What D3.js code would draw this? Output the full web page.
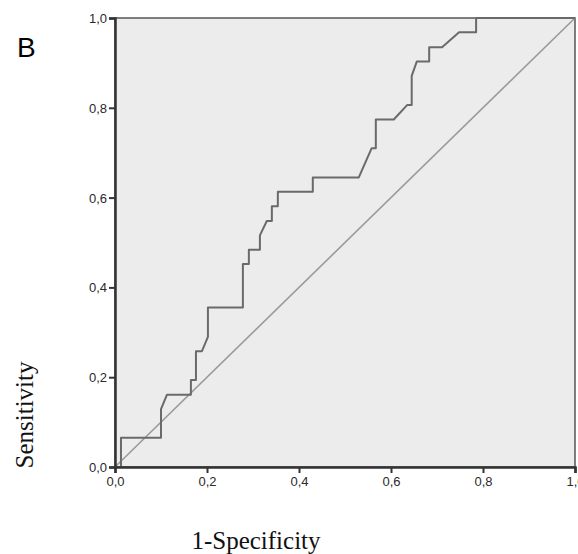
<!DOCTYPE html>
<meta charset="utf-8">
<script src="https://d3js.org/d3.v7.min.js"></script>
<style>
  body { margin: 0; background: #fff; }
  .tick text { font-family: Arial, "Liberation Sans", sans-serif; font-size: 13px; fill: #2a2a2a; }
  .axis-title { font-family: "Liberation Serif", "Times New Roman", serif; font-size: 25px; fill: #111; }
</style>
<body>
<div id="chart"></div>
<script>
    // ROC curve points (1-specificity, sensitivity)
    var fpr = [0, 0.013, 0.013, 0.1, 0.1, 0.113, 0.165, 0.165, 0.176, 0.176, 0.189, 0.202, 0.202,
               0.278, 0.278, 0.291, 0.291, 0.315, 0.315, 0.33, 0.341, 0.341, 0.354, 0.354, 0.43, 0.43,
               0.53, 0.558, 0.567, 0.567, 0.606, 0.635, 0.645, 0.645, 0.656, 0.683, 0.683, 0.711,
               0.748, 0.785, 0.785, 1];
    var tpr = [0, 0, 0.065, 0.065, 0.129, 0.161, 0.161, 0.194, 0.194, 0.258, 0.258, 0.29, 0.355,
               0.355, 0.452, 0.452, 0.484, 0.484, 0.516, 0.548, 0.548, 0.581, 0.581, 0.613, 0.613, 0.645,
               0.645, 0.71, 0.71, 0.774, 0.774, 0.806, 0.806, 0.871, 0.903, 0.903, 0.935, 0.935,
               0.968, 0.968, 1, 1];
    var refLine = [0, 1];
    var tickValues = [0, 0.2, 0.4, 0.6, 0.8, 1.0];
    var tickLabels = ["0,0", "0,2", "0,4", "0,6", "0,8", "1,0"];

    // dimensions and margins
    var margin = {top: 18, right: 3, bottom: 87, left: 115},
        width = 578 - margin.left - margin.right,
        height = 554 - margin.top - margin.bottom;

    var x = d3.scaleLinear().domain([0, 1]).range([0, 460]);
    var y = d3.scaleLinear().domain([0, 1]).range([height, 0]);

    var svg = d3.select("#chart").append("svg")
        .attr("width", 578)
        .attr("height", 554);

    // panel letter
    svg.append("text")
        .attr("x", 17).attr("y", 57)
        .style("font-family", "Arial, 'Liberation Sans', sans-serif")
        .style("font-size", "28px")
        .style("fill", "#000")
        .text("B");

    var g = svg.append("g")
        .attr("transform", "translate(" + margin.left + "," + margin.top + ")");

    // plot background
    g.append("rect")
        .attr("x", x(0)).attr("y", y(1))
        .attr("width", x(1) - x(0)).attr("height", y(0) - y(1))
        .attr("fill", "#ececec")
        .attr("stroke", "#555")
        .attr("stroke-width", 1.5);

    // reference diagonal
    var line = d3.line()
        .x(function(d) { return x(d[0]); })
        .y(function(d) { return y(d[1]); });

    g.append("path")
        .datum(refLine.map(function(v) { return [v, v]; }))
        .attr("fill", "none")
        .attr("stroke", "#9a9a9a")
        .attr("stroke-width", 1.6)
        .attr("d", line);

    // ROC curve
    g.append("path")
        .datum(fpr.map(function(v, i) { return [v, tpr[i]]; }))
        .attr("fill", "none")
        .attr("stroke", "#6a6a6a")
        .attr("stroke-width", 2)
        .attr("stroke-linejoin", "round")
        .attr("d", line);

    // axes
    var fmt = function(d, i) { return tickLabels[i]; };

    var xAxis = g.append("g")
        .attr("transform", "translate(0," + height + ")")
        .call(d3.axisBottom(x).tickValues(tickValues).tickFormat(fmt).tickSize(6).tickPadding(4));

    var yAxis = g.append("g")
        .call(d3.axisLeft(y).tickValues(tickValues).tickFormat(fmt).tickSize(6).tickPadding(2));

    [xAxis, yAxis].forEach(function(a) {
        a.select(".domain").attr("stroke", "#333").attr("stroke-width", 2.5);
        a.selectAll(".tick line").attr("stroke", "#333").attr("stroke-width", 2);
    });
    yAxis.selectAll(".tick text").attr("dy", "0.35em");

    // axis titles
    svg.append("text")
        .attr("class", "axis-title")
        .attr("x", 256).attr("y", 549)
        .attr("text-anchor", "middle")
        .text("1-Specificity");

    svg.append("text")
        .attr("class", "axis-title")
        .attr("transform", "translate(33,415) rotate(-90)")
        .attr("text-anchor", "middle")
        .text("Sensitivity");
</script>
</body>
